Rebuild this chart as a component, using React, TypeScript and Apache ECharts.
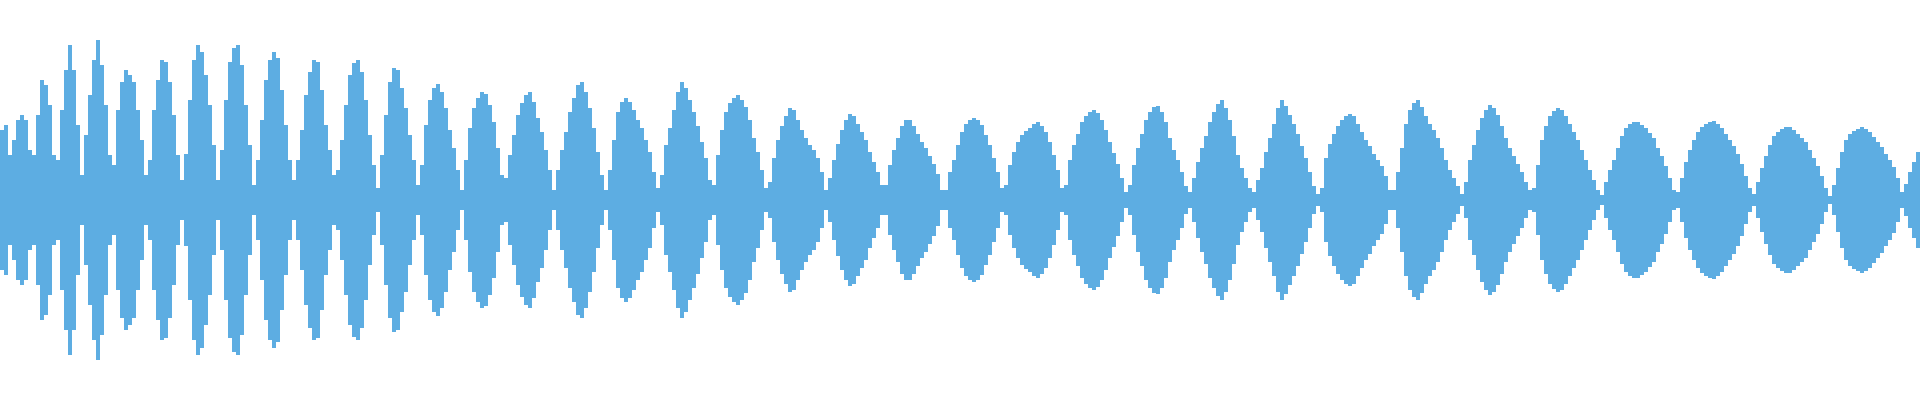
import React, { useEffect, useRef } from "react";
import * as echarts from "echarts";

// Waveform envelope, one value per 4px-wide sample bin (amplitude in axis units)
const segmentA: number[] = [
  70, 75, 45, 60, 80, 85, 80, 50,
  45, 85, 120, 115, 95, 45,
  40, 90, 130, 155, 130, 75,
  25, 65, 105, 140, 160, 135, 95, 45,
  35, 90, 118, 130, 125, 118, 90, 60, 25,
  40, 90, 120, 140, 138, 118, 85, 45, 20,
  46, 100, 140, 155, 148, 125, 95, 55, 20,
  50, 100, 138, 152, 155, 135, 95, 55, 15,
  40, 80, 120, 140, 148, 142, 110, 75, 40, 20,
  40, 70, 105, 128, 140, 138, 110, 75, 50, 25,
  30, 60, 95, 125, 137, 140, 128, 100, 65, 35, 12,
  45, 85, 118, 132, 130, 112, 92, 65, 40, 15,
];
const segmentB: number[] = [
  35, 75, 100, 112, 116, 108, 92, 70, 52, 30, 10,
  40, 72, 92, 102, 108, 106, 95, 78, 52, 25,
  22, 45, 65, 85, 97, 105, 108, 98, 82, 68, 50, 30, 10,
  30, 50, 68, 88, 102, 115, 118, 108, 92, 72, 48, 25, 10,
  30, 60, 88, 98, 102, 98, 90, 80, 72, 60, 48, 28, 12,
  25, 55, 72, 90, 108, 118, 112, 100, 88, 74, 58, 42, 20,
  15, 45, 70, 88, 97, 102, 105, 100, 93, 80, 62, 48, 30, 12,
  18, 42, 60, 74, 84, 92, 90, 80, 70, 62, 55, 50, 42, 28, 10,
];
const segmentC: number[] = [
  22, 40, 56, 70, 80, 86, 84, 76, 68, 60, 48, 38, 28, 15,
  15, 35, 50, 62, 74, 80, 80, 74, 66, 58, 52, 44, 36, 26, 10,
  10, 28, 40, 55, 68, 76, 80, 82, 80, 75, 65, 55, 42, 28, 12,
  15, 35, 48, 58, 65, 69, 72, 76, 78, 74, 68, 58, 45, 30, 12,
  15, 40, 55, 66, 78, 84, 88, 90, 87, 80, 70, 58, 47, 36, 22, 8,
  15, 35, 52, 66, 80, 88, 93, 94, 88, 78, 62, 50, 40, 28, 14, 8,
  22, 38, 52, 64, 78, 88, 96, 100, 92, 80, 64, 45, 32, 22, 12, 8,
  20, 32, 48, 62, 76, 92, 100, 94, 85, 76, 66, 54, 42, 28, 14, 6,
];
const segmentD: number[] = [
  12, 42, 56, 66, 74, 80, 84, 86, 84, 76, 68, 60, 54, 46, 40, 34, 24, 10,
  10, 28, 52, 76, 90, 97, 100, 93, 84, 76, 70, 62, 52, 40, 30, 22, 14, 6,
  18, 40, 55, 70, 82, 90, 95, 92, 85, 74, 62, 52, 44, 36, 28, 18, 10,
  12, 35, 60, 74, 84, 89, 92, 90, 84, 76, 68, 60, 50, 40, 30, 20, 10, 5,
  18, 30, 40, 52, 64, 72, 76, 78, 78, 75, 72, 67, 62, 52, 44, 34, 22, 10,
  8, 22, 38, 50, 60, 68, 73, 76, 78, 79, 76, 72, 66, 60, 54, 46, 36, 24, 12,
  6, 18, 32, 44, 55, 64, 68, 71, 73, 73, 70, 66, 62, 58, 50, 42, 34, 24, 12, 4,
  15, 32, 48, 60, 66, 69, 71, 73, 71, 68, 63, 58, 53, 46, 40, 33, 22, 8,
  16, 28, 38, 48,
];

const amplitude: number[] = [...segmentA, ...segmentB, ...segmentC, ...segmentD];
const sampleIndex: string[] = amplitude.map((_, i) => String(i));
const yRange = { min: -200, max: 200 };
const WAVE_COLOR = "#5DADE2";

export default function App() {
  const ref = useRef<HTMLDivElement>(null);

  useEffect(() => {
    document.body.style.margin = "0";
    if (!ref.current) return;
    const chart = echarts.init(ref.current, undefined, { renderer: "svg" });
    chart.setOption({
      animation: false,
      grid: { left: 0, right: 0, top: 0, bottom: 0 },
      xAxis: {
        type: "category",
        data: sampleIndex,
        show: false,
        boundaryGap: true,
      },
      yAxis: {
        type: "value",
        min: yRange.min,
        max: yRange.max,
        show: false,
      },
      series: [
        {
          type: "bar",
          stack: "wave",
          data: amplitude,
          barCategoryGap: "0%",
          itemStyle: { color: WAVE_COLOR },
          emphasis: { disabled: true },
          silent: true,
        },
        {
          type: "bar",
          stack: "wave",
          data: amplitude.map((v) => -v),
          barCategoryGap: "0%",
          itemStyle: { color: WAVE_COLOR },
          emphasis: { disabled: true },
          silent: true,
        },
      ],
    });
    return () => chart.dispose();
  }, []);

  return <div ref={ref} style={{ width: 1920, height: 400 }} />;
}
